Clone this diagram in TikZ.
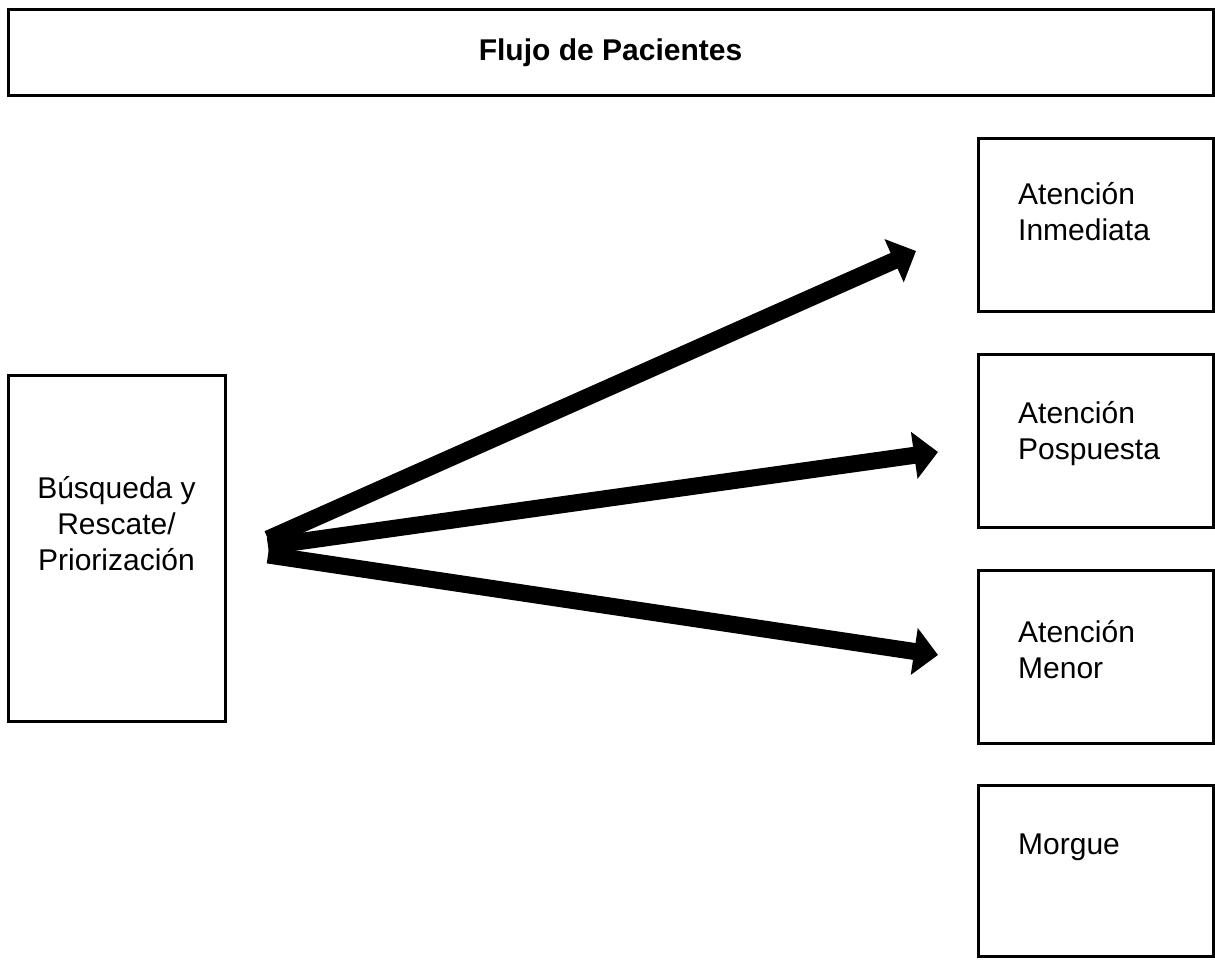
\documentclass[tikz,border=0pt]{standalone}
\usepackage{fontspec}
\setmainfont{Liberation Sans}
\usetikzlibrary{arrows.meta,positioning}

\begin{document}
\begin{tikzpicture}[x=1pt,y=1pt,line join=miter,
  caja/.style={draw,line width=3pt,rectangle,inner sep=0pt},
  texto/.style={inner sep=0pt,font=\fontsize{30}{36}\selectfont},
  flecha/.style={line width=17pt,-{Triangle[length=24pt,width=46pt]}},
]
\useasboundingbox (0,0) rectangle (1215,960);
%%
\node (titulo) at (610.5,907) [caja,minimum width=1205pt,minimum height=86pt,font=\fontsize{30}{36}\selectfont\bfseries] {Flujo de Pacientes};
  \node (busq) at (116.5,411) [caja,minimum width=217pt,minimum height=346pt] {};
  \node (inmed) at (1095.5,734.5) [caja,minimum width=235pt,minimum height=173pt] {};
  \node (posp) at (1095.5,518.5) [caja,minimum width=235pt,minimum height=173pt] {};
  \node (menor) at (1095.5,302.5) [caja,minimum width=235pt,minimum height=173pt] {};
  \node (morgue) at (1095.5,88.5) [caja,minimum width=235pt,minimum height=171pt] {};
%
  \node (tbusq) at (116.5,436) [texto,align=center] {Búsqueda y\\Rescate/\\Priorización};
  \node (tinmed) at (1018,748) [texto,align=left,anchor=west] {Atención\\Inmediata};
  \node (tposp) at (1018,526) [texto,align=left,anchor=west] {Atención\\Pospuesta};
  \node (tmenor) at (1018,310) [texto,align=left,anchor=west] {Atención\\Menor};
  \node (tmorgue) at (1018,113) [texto,align=left,anchor=west] {Morgue};
%
  \coordinate (s1) at (268,421);
  \coordinate (s2) at (268,414);
  \coordinate (s3) at (268,405);
  \coordinate (p1) at (916,709);
  \coordinate (p2) at (938,508);
  \coordinate (p3) at (938,305);
  \draw [flecha] (s1) -- (p1);
  \draw [flecha] (s2) -- (p2);
  \draw [flecha] (s3) -- (p3);
%
\end{tikzpicture}
\end{document}
